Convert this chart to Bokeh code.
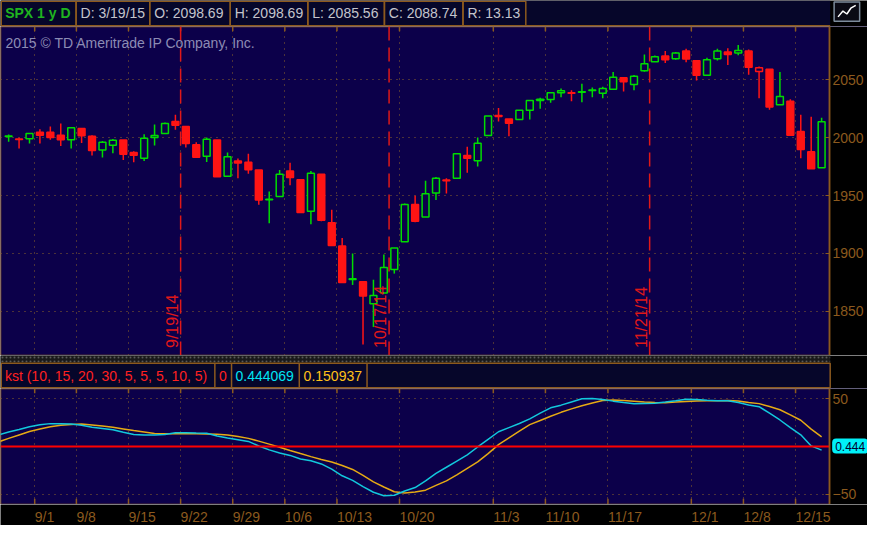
import math
from bokeh.plotting import figure
from bokeh.models import (Range1d, LinearAxis, FixedTicker, Grid, Span, Label,
                          LabelSet, ColumnDataSource)
from bokeh.layouts import column
from bokeh.embed import file_html
from bokeh.resources import INLINE
from bokeh.core.properties import value

# ---------------- data ----------------
opens = [2001.2, 1999.0, 1999.2, 2004.8, 2004.8, 2002.3, 1998.3, 2008.1, 2001.4, 1989.4,
         1993.6, 1998.1, 1987.2, 1982.4, 2000.3, 2003.7, 2014.0, 2009.8, 1993.9, 1984.1,
         1998.1, 1966.8, 1979.9, 1978.8, 1972.1, 1946.4, 1949.2, 1971.2, 1963.7, 1936.6,
         1968.5, 1926.5, 1906.4, 1877.6, 1875.6, 1856.5, 1865.8, 1886.2, 1910.2, 1942.4,
         1931.5, 1952.2, 1963.6, 1965.1, 1984.6, 1980.2, 2002.0, 2019.2, 2016.3, 2015.9,
         2023.8, 2032.2, 2033.1, 2038.9, 2039.0, 2039.4, 2040.9, 2038.6, 2041.9, 2051.8,
         2046.1, 2057.9, 2065.8, 2070.8, 2068.3, 2075.0, 2066.6, 2054.0, 2068.3, 2074.2,
         2073.3, 2075.0, 2057.4, 2059.3, 2028.5, 2031.6, 2005.4, 1988.0, 1974.0]
highs = [2002.9, 2000.0, 2003.7, 2007.3, 2009.8, 2012.3, 2008.7, 2008.1, 2002.3, 1997.2,
         1998.9, 1998.1, 1988.3, 2003.1, 2011.5, 2013.2, 2019.9, 2009.8, 1996.1, 2000.3,
         1998.1, 1987.2, 1982.1, 1986.3, 1972.1, 1953.6, 1972.1, 1978.5, 1963.7, 1971.2,
         1968.5, 1937.7, 1913.3, 1899.9, 1875.6, 1877.3, 1899.1, 1904.7, 1943.3, 1950.0,
         1962.8, 1966.0, 1965.1, 1986.1, 1992.2, 2000.3, 2018.8, 2025.8, 2016.3, 2023.8,
         2032.2, 2034.7, 2038.9, 2042.5, 2041.1, 2046.7, 2043.4, 2044.2, 2056.8, 2051.8,
         2054.3, 2071.9, 2071.1, 2075.0, 2074.2, 2076.9, 2066.6, 2069.1, 2076.9, 2077.5,
         2080.3, 2076.3, 2061.6, 2059.3, 2056.8, 2033.3, 2019.9, 2018.2, 2017.4]
lows = [1996.6, 1990.8, 1995.0, 1995.0, 1998.3, 1993.0, 1990.8, 1995.6, 1984.6, 1983.0,
        1986.6, 1980.7, 1978.8, 1979.9, 1993.3, 2003.7, 2007.0, 1991.6, 1983.2, 1979.0,
        1966.4, 1966.8, 1965.1, 1969.0, 1942.1, 1926.2, 1949.2, 1958.9, 1935.4, 1925.3,
        1927.9, 1906.9, 1875.0, 1872.8, 1821.3, 1836.4, 1865.8, 1882.6, 1910.2, 1927.0,
        1931.5, 1946.3, 1951.9, 1965.1, 1969.8, 1975.2, 2002.0, 2014.0, 2001.4, 2015.4,
        2015.9, 2025.2, 2030.2, 2035.0, 2031.6, 2030.8, 2035.0, 2034.1, 2041.9, 2040.0,
        2041.1, 2057.0, 2065.8, 2064.6, 2067.4, 2065.4, 2049.5, 2054.0, 2066.9, 2062.9,
        2071.3, 2054.5, 2034.1, 2024.3, 2028.5, 2002.3, 1982.4, 1973.2, 1974.0]
closes = [2001.6, 1998.5, 2003.7, 2002.3, 2000.3, 1998.3, 2008.7, 2001.7, 1989.1, 1996.1,
          1997.8, 1985.7, 1984.9, 1999.7, 2002.0, 2012.3, 2010.9, 1995.0, 1983.2, 1998.7,
          1966.4, 1983.6, 1978.2, 1972.3, 1946.3, 1946.9, 1968.5, 1965.6, 1935.4, 1969.3,
          1928.8, 1906.9, 1875.0, 1878.2, 1863.3, 1863.6, 1887.9, 1904.7, 1942.4, 1927.9,
          1951.7, 1965.1, 1962.9, 1986.1, 1982.4, 1995.3, 2018.8, 2018.5, 2012.6, 2023.8,
          2032.2, 2033.3, 2038.9, 2040.6, 2038.6, 2039.8, 2041.3, 2042.5, 2052.3, 2048.4,
          2053.2, 2064.1, 2070.0, 2067.4, 2073.3, 2068.0, 2054.0, 2067.4, 2075.0, 2072.1,
          2075.5, 2061.0, 2060.5, 2026.6, 2035.6, 2002.3, 1989.9, 1973.2, 2013.8]

kst_start = -1
kst = [12.1, 15.2, 17.7, 20.7, 22.7, 23.9, 23.7, 23.4, 22.2, 20.2,
       18.9, 17.6, 14.8, 12.6, 11.9, 11.9, 12.6, 14.4, 14.3, 14.0,
       13.8, 11.0, 8.8, 7.1, 5.3, 0.5, -3.5, -6.8, -9.3, -13.0,
       -14.9, -18.2, -23.7, -30.6, -35.4, -42.0, -47.8, -51.5, -51.0, -46.5,
       -42.9, -35.9, -28.1, -21.7, -15.2, -8.7, -0.5, 7.5, 15.4, 19.7,
       24.0, 28.9, 34.8, 40.4, 43.2, 46.5, 49.8, 50.2, 49.1, 47.4,
       45.9, 44.7, 45.0, 45.3, 46.5, 47.8, 49.3, 49.0, 48.3, 47.9,
       47.7, 46.0, 43.4, 41.6, 34.8, 27.7, 19.7, 12.2, 0.6, -3.8]
kst_signal = [4.7, 8.5, 12.1, 15.7, 18.2, 20.6, 22.3, 23.1, 23.5, 22.5,
              21.4, 20.2, 18.4, 16.6, 15.2, 13.7, 13.4, 13.4, 13.4, 13.3,
              13.1, 12.9, 12.1, 10.4, 8.5, 5.6, 2.5, -0.7, -4.1, -7.4,
              -10.6, -13.5, -16.2, -19.8, -24.0, -30.1, -37.0, -42.3, -47.3, -48.6,
              -47.6, -45.6, -40.6, -35.9, -29.6, -22.8, -16.0, -7.4, 2.0, 9.0,
              16.0, 22.9, 27.1, 31.6, 35.7, 39.3, 42.6, 45.5, 48.0, 48.5,
              48.0, 47.3, 46.6, 46.0, 45.7, 46.4, 47.0, 47.5, 47.7, 47.9,
              48.1, 47.5, 46.0, 44.8, 41.7, 38.4, 33.0, 27.4, 18.1, 10.0]
kst_last = 0.444

tick_positions = [2.5, 6.5, 11.5, 16.5, 21.5, 26.5, 31.5, 37.5, 46.5, 51.5, 57.5, 65.5, 70.5, 75.5]
tick_labels = ["9/1", "9/8", "9/15", "9/22", "9/29", "10/6", "10/13", "10/20",
               "11/3", "11/10", "11/17", "12/1", "12/8", "12/15"]
price_ticks = [1850, 1900, 1950, 2000, 2050]
kst_ticks = [-50, 50]
event_positions = [16.5, 36.5, 61.5]
event_labels = ["9/19/14", "10/17/14", "11/21/14"]

header_fields = ["SPX 1 y D", "D: 3/19/15", "O: 2098.69", "H: 2098.69",
                 "L: 2085.56", "C: 2088.74", "R: 13.13"]
study_title = "kst (10, 15, 20, 30, 5, 5, 5, 10, 5)"
study_values = ["0", "0.444069", "0.150937"]
copyright_text = "2015 \u00a9 TD Ameritrade IP Company, Inc."

# ---------------- style / layout ----------------
W = 867
REF_W = 883.0
H_HEAD, H_P1, H_MID, H_P3, H_XL = 26, 329, 33, 116, 21
BG = "#0c004a"
HDR_BG = "#06062a"
BROWN = "#8c5a1e"
GRIDC = "#8c6428"
LABELC = "#8c5a1e"
GREEN = "#00dc00"
RED = "#ff1414"
CYAN = "#12c8dc"
ORANGE = "#e6aa14"
FONT = "Liberation Sans"

# horizontal layout: candle slots of 10.615 reference px, first centre at 8.3 px
SLOT = 10.615
X0 = -8.3 / SLOT


def px2idx(px):
    return X0 + px / SLOT


AXIS_X = px2idx(844.3)
xr = Range1d(px2idx(0), px2idx(REF_W))


def bare(fig):
    fig.grid.visible = False
    return fig


def make_fig(h, x_range, y_range, bg):
    return bare(figure(width=W, height=h, x_range=x_range, y_range=y_range,
                       output_backend="svg", toolbar_location=None, x_axis_location=None,
                       y_axis_location=None, min_border=0, background_fill_color=bg,
                       border_fill_color="black", outline_line_color=None))


def right_axis(ticks):
    return LinearAxis(fixed_location=AXIS_X, ticker=FixedTicker(ticks=ticks),
                      axis_line_color=BROWN, axis_line_width=1.5,
                      major_tick_line_color=BROWN, major_tick_in=4, major_tick_out=0,
                      minor_tick_line_color=None, major_label_standoff=3,
                      major_label_text_color=LABELC, major_label_text_font=FONT,
                      major_label_text_font_size="14px")


# ---------------- header ----------------
ph = make_fig(H_HEAD, Range1d(0, REF_W), Range1d(27, 0), "black")
ph.quad(left=0, right=845, top=0, bottom=27, fill_color=HDR_BG, line_color=None)
lefts = [0.75, 77, 152, 234, 313, 391, 471]
rights = [77, 152, 234, 313, 391, 471, 535]
ph.quad(left=lefts, right=rights, top=0.75, bottom=26.25, fill_color=None,
        line_color=BROWN, line_width=1.5)
ph.segment(x0=0, y0=26.25, x1=845, y1=26.25, line_color=BROWN, line_width=1.5)
ph.text(x=[lefts[0] + 4], y=[13], text=[header_fields[0]], text_color="#1fb41f",
        text_font=value(FONT), text_font_size="14px", text_font_style="bold",
        text_baseline="middle")
ph.text(x=[l + 4.5 for l in lefts[1:]], y=[13] * 6, text=header_fields[1:],
        text_color="#c4c4cc", text_font=value(FONT), text_font_size="14px",
        text_baseline="middle")
ph.quad(left=849, right=875, top=1.5, bottom=21.5, fill_color="#0a0a14",
        line_color="#7d8c9c", line_width=1.5)
ph.line(x=[853, 858, 862, 866, 871], y=[17, 11, 14, 8, 5], line_color="white", line_width=1.5)

# ---------------- price panel ----------------
yr1 = Range1d(1811.8, 2096.2)
p1 = make_fig(H_P1, xr, yr1, BG)
p1.add_layout(Grid(dimension=0, ticker=FixedTicker(ticks=tick_positions),
                   grid_line_color=GRIDC, grid_line_dash="1 5"))
p1.add_layout(Grid(dimension=1, ticker=FixedTicker(ticks=price_ticks),
                   grid_line_color=GRIDC, grid_line_dash="1 5"))
p1.quad(left=AXIS_X, right=xr.end, bottom=yr1.start, top=yr1.end, fill_color="black",
        line_color=None)
p1.quad(left=xr.start, right=AXIS_X, bottom=yr1.start, top=yr1.end, fill_color=None,
        line_color=BROWN, line_width=1.5)
p1.add_layout(right_axis(price_ticks), "right")

n = len(closes)
colors, fills, tops, bottoms = [], [], [], []
for i in range(n):
    ref = closes[i - 1] if i > 0 else opens[i]
    col = GREEN if closes[i] >= ref else RED
    filled = closes[i] < opens[i]
    colors.append(col)
    fills.append(col if filled else BG)
    tops.append(max(opens[i], closes[i]))
    bottoms.append(min(opens[i], closes[i]))
src = ColumnDataSource(dict(x=list(range(n)), high=highs, low=lows, top=tops,
                            bottom=bottoms, color=colors, fill=fills))
p1.segment(x0="x", y0="high", x1="x", y1="low", source=src, line_color="color",
           line_width=1.5)
p1.vbar(x="x", width=0.66, top="top", bottom="bottom", source=src, fill_color="fill",
        line_color="color", line_width=1.5)

nt = len(tick_positions)
p1.segment(x0=tick_positions, y0=[yr1.end] * nt, x1=tick_positions,
           y1=[yr1.end - 4.2] * nt, line_color=BROWN, line_width=1.5)

for pos in event_positions:
    p1.add_layout(Span(location=pos, dimension="height", line_color="#e01818",
                       line_dash="14 7", line_width=1.5))
ev_src = ColumnDataSource(dict(x=event_positions, text=event_labels))
p1.add_layout(LabelSet(x="x", y=7.5, y_units="screen", text="text", source=ev_src,
                       angle=math.pi / 2, text_align="left", text_baseline="alphabetic",
                       x_offset=-3, text_color="#e01818", text_font=value(FONT),
                       text_font_size="16px"))
p1.add_layout(Label(x=5, y=H_P1 - 16.5, x_units="screen", y_units="screen",
                    text=copyright_text, text_baseline="middle", text_color="#8c8cb4",
                    text_font=FONT, text_font_size="14px"))

# ---------------- study header ----------------
pm = make_fig(H_MID, Range1d(0, REF_W), Range1d(400, 366), "black")
pm.quad(left=0, right=845, top=366, bottom=373.3, fill_color="#1a1a1a", line_color=None,
        hatch_pattern="dot", hatch_color="#5a5a5a", hatch_scale=4)
pm.quad(left=0.75, right=845, top=374, bottom=399.2, fill_color=HDR_BG, line_color=BROWN,
        line_width=1.5)
pm.segment(x0=[218.3, 235.3, 304.3, 373.3], y0=374, x1=[218.3, 235.3, 304.3, 373.3],
           y1=399.2, line_color=BROWN, line_width=1.5)
pm.text(x=[4.5, 222.5, 239.3, 308.7], y=[387] * 4, text=[study_title] + study_values,
        text_color=["#ff2020", "#ff2020", "#00e4f4", "#ffc018"], text_font=value(FONT),
        text_font_size="14px", text_baseline="middle")

# ---------------- KST panel ----------------
yr3 = Range1d(-60.6, 60.6)
p3 = make_fig(H_P3, xr, yr3, BG)
p3.add_layout(Grid(dimension=0, ticker=FixedTicker(ticks=tick_positions),
                   grid_line_color=GRIDC, grid_line_dash="1 5"))
p3.add_layout(Grid(dimension=1, ticker=FixedTicker(ticks=kst_ticks),
                   grid_line_color=GRIDC, grid_line_dash="1 5"))
p3.quad(left=AXIS_X, right=xr.end, bottom=yr3.start, top=yr3.end, fill_color="black",
        line_color=None)
p3.quad(left=xr.start, right=AXIS_X, bottom=yr3.start, top=yr3.end, fill_color=None,
        line_color=BROWN, line_width=1.5)
p3.add_layout(right_axis(kst_ticks), "right")
kst_x = list(range(kst_start, kst_start + len(kst)))
p3.line(kst_x, kst_signal, line_color=ORANGE, line_width=1.5)
p3.line(kst_x, kst, line_color=CYAN, line_width=1.5)
p3.segment(x0=[xr.start], y0=[0], x1=[AXIS_X], y1=[0], line_color="#ff0000", line_width=2)
p3.segment(x0=tick_positions, y0=[yr3.start] * nt, x1=tick_positions,
           y1=[yr3.start + 6] * nt, line_color=BROWN, line_width=1.5)
p3.segment(x0=tick_positions, y0=[yr3.end] * nt, x1=tick_positions,
           y1=[yr3.end - 5] * nt, line_color=BROWN, line_width=1.5)
p3.add_layout(Label(x=px2idx(847), y=kst_last, text="0.444", text_baseline="middle",
                    text_color="#000030", text_font=FONT, text_font_size="12px",
                    background_fill_color="#00f0f8", padding=3, border_radius=4))

# ---------------- date labels ----------------
pl = make_fig(H_XL, xr, Range1d(21, 0), "black")
pl.text(x=tick_positions, y=[4] * nt, text=tick_labels, text_color=LABELC,
        text_font=value(FONT), text_font_size="14px", text_align="left",
        text_baseline="top")

layout = column(ph, p1, pm, p3, pl, spacing=0)
open("out.html", "w").write(file_html(layout, INLINE))
